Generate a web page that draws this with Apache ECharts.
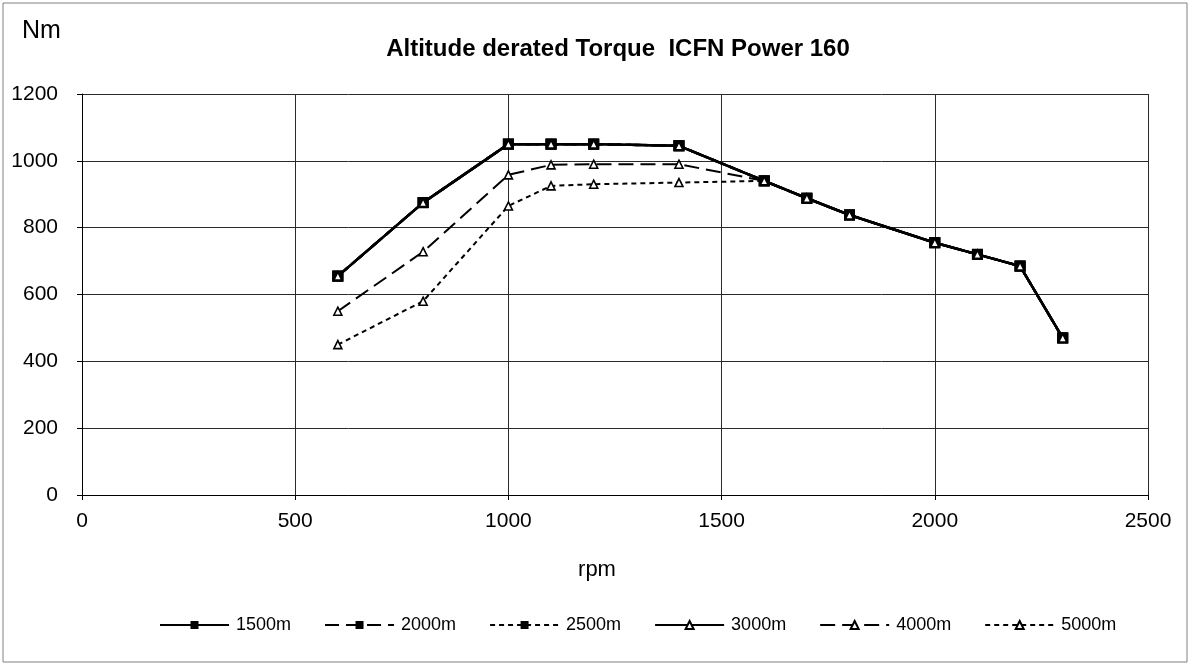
<!DOCTYPE html>
<html>
<head>
<meta charset="utf-8">
<title>Altitude derated Torque</title>
<script src="https://cdn.jsdelivr.net/npm/echarts@6/dist/echarts.min.js"></script>
<style>
  html, body { margin: 0; padding: 0; background: #fff; }
  #chart { width: 1190px; height: 666px; }
</style>
</head>
<body>
<div id="chart"></div>
<script>
// rpm points
const rpm = [600, 800, 1000, 1100, 1200, 1400, 1600, 1700, 1800, 2000, 2100, 2200, 2300];

// torque (Nm) per altitude
const torque1500 = [655, 875, 1050, 1050, 1050, 1045, 940, 888, 838, 755, 720, 685, 470];
const torque2000 = [655, 875, 1050, 1050, 1050, 1045, 940, 888, 838, 755, 720, 685, 470];
const torque2500 = [655, 875, 1050, 1050, 1050, 1045, 940, 888, 838, 755, 720, 685, 470];
const torque3000 = [655, 875, 1050, 1050, 1050, 1045, 940, 888, 838, 755, 720, 685, 470];
const torque4000 = [550, 728, 958, 988, 990, 990, 940, 888, 838, 755, 720, 685, 470];
const torque5000 = [450, 580, 865, 925, 930, 935, 940, 888, 838, 755, 720, 685, 470];

const xTicks = [0, 500, 1000, 1500, 2000, 2500];
const yTicks = [0, 200, 400, 600, 800, 1000, 1200];

const FONT = '"Liberation Sans", Arial, sans-serif';

const pairs = (ys) => rpm.map((x, i) => [x, ys[i]]);

const squareSeries = (name, ys, dash) => ({
  name: name,
  type: 'line',
  data: pairs(ys),
  symbol: 'rect',
  symbolSize: 11,
  itemStyle: { color: '#000', borderColor: '#000', borderWidth: 0 },
  lineStyle: { color: '#000', width: 2.5, type: dash },
  emphasis: { disabled: true },
  z: 2
});

const triSeries = (name, ys, dash, width) => ({
  name: name,
  type: 'line',
  data: pairs(ys),
  symbol: 'triangle',
  symbolSize: 8,
  itemStyle: { color: '#fff', borderColor: '#000', borderWidth: 1.6 },
  lineStyle: { color: '#000', width: width, type: dash },
  emphasis: { disabled: true },
  z: 3
});

const chart = echarts.init(document.getElementById('chart'), null, { renderer: 'canvas' });

chart.setOption({
  animation: false,
  backgroundColor: '#fff',
  textStyle: { fontFamily: FONT },
  title: {
    text: 'Altitude derated Torque  ICFN Power 160',
    left: 613,
    textAlign: 'center',
    top: 32,
    textStyle: { fontFamily: FONT, fontSize: 24, fontWeight: 'bold', color: '#000' }
  },
  graphic: [
    {
      type: 'rect',
      shape: { x: 3, y: 3, width: 1184, height: 659 },
      style: { fill: 'none', stroke: '#808080', lineWidth: 1 },
      silent: true,
      z: -10
    },
    {
      type: 'text',
      left: 22,
      top: 19,
      style: { text: 'Nm', fill: '#000', font: '25px ' + FONT }
    }
  ],
  legend: {
    left: 154,
    top: 611,
    itemWidth: 69,
    itemHeight: 10,
    itemGap: 33,
    textStyle: { fontFamily: FONT, fontSize: 18, color: '#000', padding: [0, 0, 0, 2] },
    data: ['1500m', '2000m', '2500m', '3000m', '4000m', '5000m']
  },
  grid: { left: 82, right: 42, top: 94, bottom: 171, containLabel: false },
  xAxis: {
    type: 'value',
    min: xTicks[0],
    max: xTicks[xTicks.length - 1],
    interval: 500,
    name: 'rpm',
    nameLocation: 'middle',
    nameGap: 64,
    nameTextStyle: { fontFamily: FONT, fontSize: 22, color: '#000', padding: [0, 36, 0, 0] },
    axisLine: { show: true, lineStyle: { color: '#000', width: 1 } },
    axisTick: { show: true, length: 5, lineStyle: { color: '#000' } },
    axisLabel: { fontFamily: FONT, fontSize: 21, color: '#000', margin: 16, formatter: (v) => String(v) },
    splitLine: { show: true, lineStyle: { color: '#2a2a2a', width: 1 } }
  },
  yAxis: {
    type: 'value',
    min: yTicks[0],
    max: yTicks[yTicks.length - 1],
    interval: 200,
    axisLine: { show: true, lineStyle: { color: '#000', width: 1 } },
    axisTick: { show: true, length: 5, lineStyle: { color: '#000' } },
    axisLabel: { fontFamily: FONT, fontSize: 21, color: '#000', margin: 24, formatter: (v) => String(v) },
    splitLine: { show: true, lineStyle: { color: '#2a2a2a', width: 1 } }
  },
  series: [
    squareSeries('1500m', torque1500, 'solid'),
    squareSeries('2000m', torque2000, [14, 7]),
    squareSeries('2500m', torque2500, [5, 4]),
    triSeries('3000m', torque3000, 'solid', 2.5),
    triSeries('4000m', torque4000, [15, 7], 2),
    triSeries('5000m', torque5000, [5, 4], 2)
  ]
});
</script>
</body>
</html>
